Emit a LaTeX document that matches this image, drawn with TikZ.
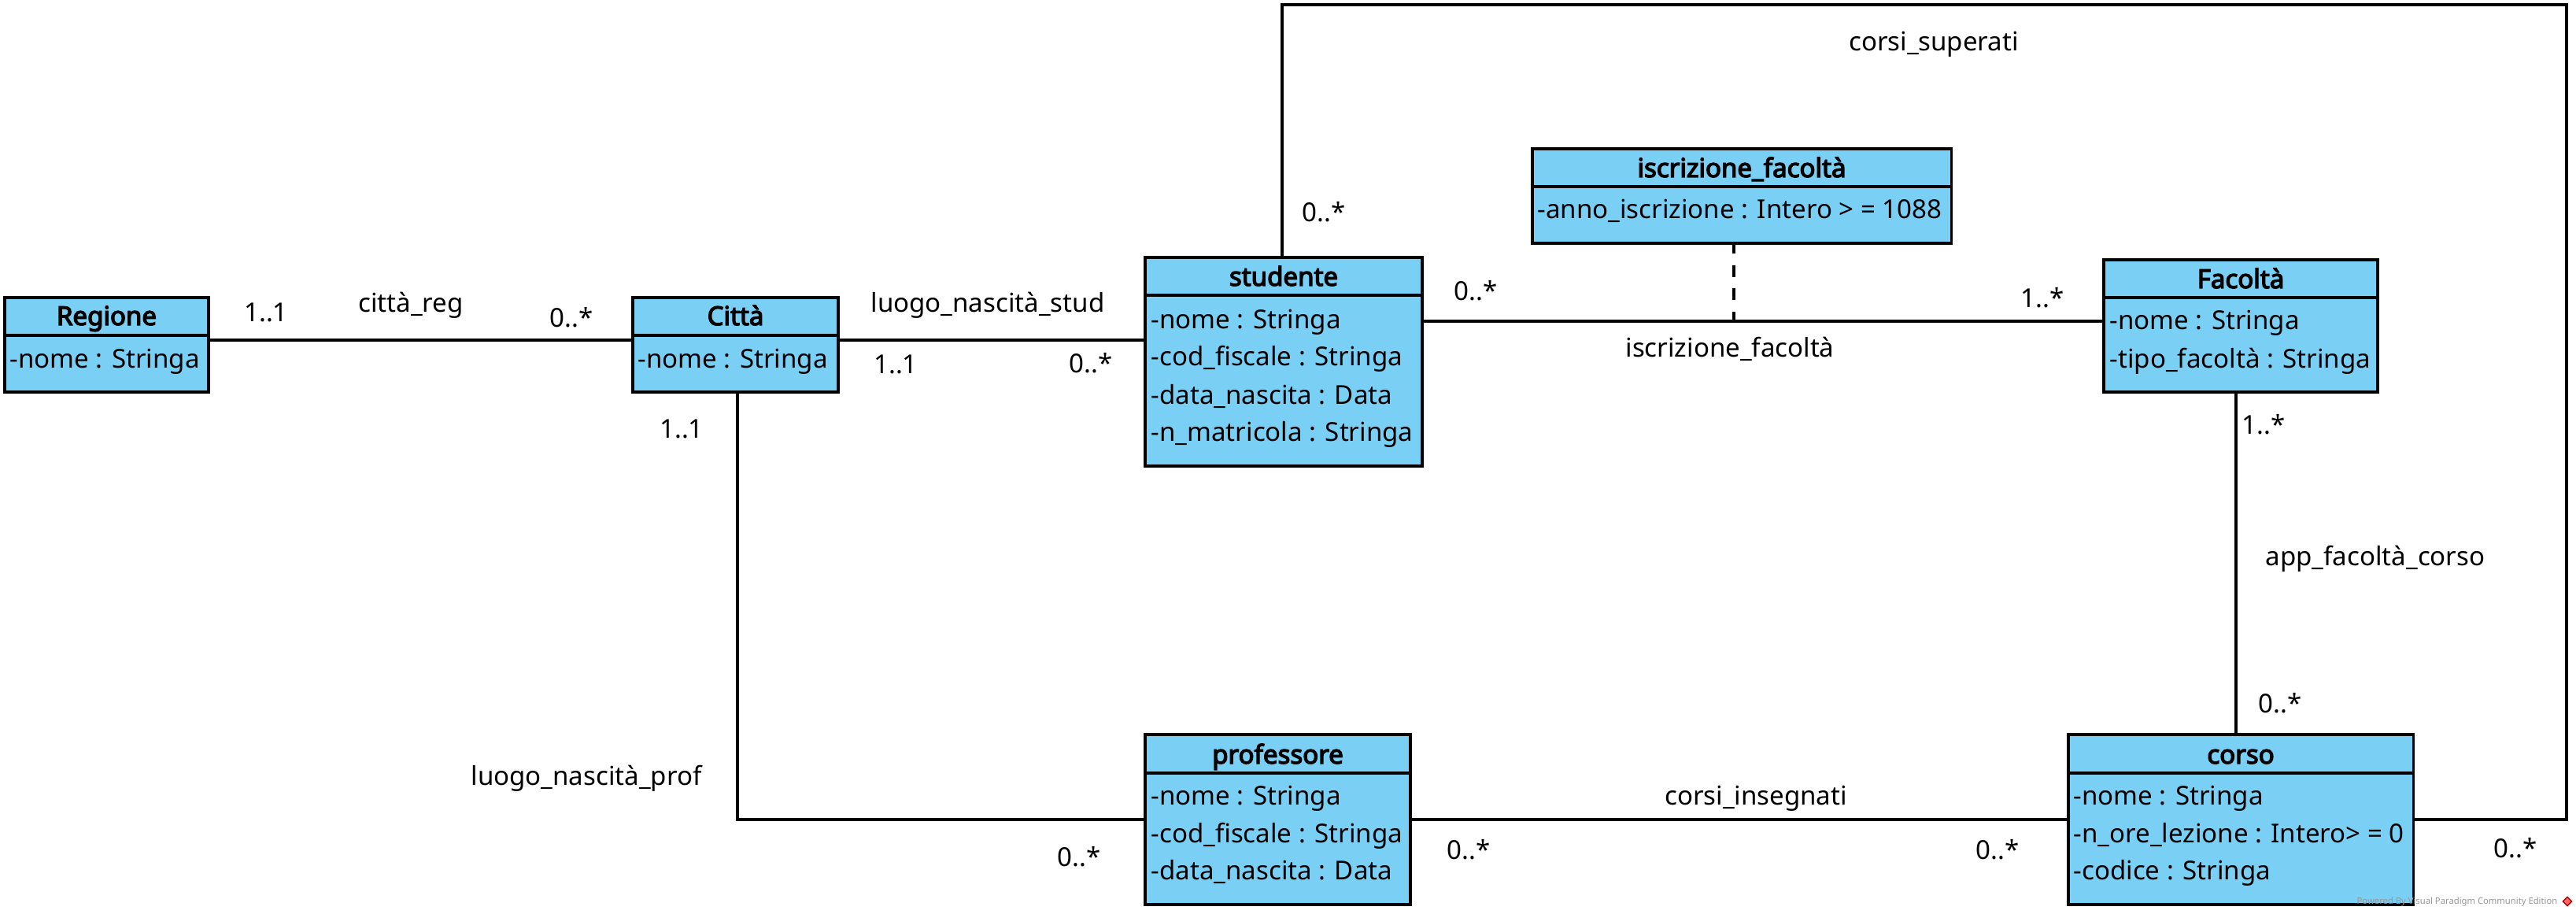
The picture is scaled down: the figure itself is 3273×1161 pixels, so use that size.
\documentclass[tikz,border=0pt]{standalone}
\usepackage{fontspec}
\setmainfont{Noto Sans}[AutoFakeBold=4]
\definecolor{clsfill}{RGB}{122,207,245}
\definecolor{wm}{RGB}{150,150,150}
\begin{document}
\begin{tikzpicture}[x=0.01cm,y=-0.01cm,
  cls/.style={draw=black,fill=clsfill,line width=1pt,inner sep=0pt,outer sep=0pt,anchor=north west},
  divl/.style={line width=1pt},
  hdr/.style={anchor=base,inner sep=0pt,font=\fontsize{9.4}{11}\selectfont\bfseries},
  attr/.style={anchor=base west,inner sep=0pt,font=\fontsize{9.4}{11}\selectfont},
  lbl/.style={inner sep=0pt,font=\fontsize{9.4}{11}\selectfont},
  conn/.style={line width=1pt},
  dsh/.style={line width=1pt,dash pattern=on 0.15cm off 0.145cm,dash phase=0.02cm}
]
\useasboundingbox (0,0) rectangle (3273,1161);

% Regione
\node[cls,minimum width=2.59cm,minimum height=1.20cm] (reg) at (6,378) {};
\draw[divl] (reg.west |- 0,426) -- (reg.east |- 0,426);
\node[hdr] (regH) at (135.5,413) {Regione};
\node[attr] (regA1) at (12,468) {-nome : Stringa};

% Citta
\node[cls,minimum width=2.61cm,minimum height=1.20cm] (cit) at (804,378) {};
\draw[divl] (cit.west |- 0,426) -- (cit.east |- 0,426);
\node[hdr] (citH) at (934.5,413) {Città};
\node[attr] (citA1) at (810,468) {-nome : Stringa};

% studente
\node[cls,minimum width=3.52cm,minimum height=2.65cm] (stu) at (1455,327) {};
\draw[divl] (stu.west |- 0,375) -- (stu.east |- 0,375);
\node[hdr] (stuH) at (1631,363) {studente};
\node[attr] (stuA1) at (1462,417) {-nome : Stringa};
\node[attr] (stuA2) at (1462,465) {-cod\_fiscale : Stringa};
\node[attr] (stuA3) at (1462,513) {-data\_nascita : Data};
\node[attr] (stuA4) at (1462,560) {-n\_matricola : Stringa};

% iscrizione_facolta
\node[cls,minimum width=5.32cm,minimum height=1.20cm] (isc) at (1947,189) {};
\draw[divl] (isc.west |- 0,237) -- (isc.east |- 0,237);
\node[hdr] (iscH) at (2213,225) {iscrizione\_facoltà};
\node[attr] (iscA1) at (1953,278) {-anno\_iscrizione : Intero > = 1088};

% Facolta
\node[cls,minimum width=3.48cm,minimum height=1.68cm] (fac) at (2673,330) {};
\draw[divl] (fac.west |- 0,378) -- (fac.east |- 0,378);
\node[hdr] (facH) at (2847,366) {Facoltà};
\node[attr] (facA1) at (2680,419) {-nome : Stringa};
\node[attr] (facA2) at (2680,467) {-tipo\_facoltà : Stringa};

% professore
\node[cls,minimum width=3.37cm,minimum height=2.16cm] (pro) at (1455,933) {};
\draw[divl] (pro.west |- 0,982) -- (pro.east |- 0,982);
\node[hdr] (proH) at (1623.5,970) {professore};
\node[attr] (proA1) at (1462,1022) {-nome : Stringa};
\node[attr] (proA2) at (1462,1070) {-cod\_fiscale : Stringa};
\node[attr] (proA3) at (1462,1117) {-data\_nascita : Data};

% corso
\node[cls,minimum width=4.38cm,minimum height=2.16cm] (cor) at (2628,933) {};
\draw[divl] (cor.west |- 0,982) -- (cor.east |- 0,982);
\node[hdr] (corH) at (2847,970) {corso};
\node[attr] (corA1) at (2634,1022) {-nome : Stringa};
\node[attr] (corA2) at (2634,1070) {-n\_ore\_lezione : Intero> = 0};
\node[attr] (corA3) at (2634,1117) {-codice : Stringa};

% connectors
\draw[conn] (reg.east |- 0,432) -- (cit.west |- 0,432);
\draw[conn] (cit.east |- 0,432) -- (stu.west |- 0,432);
\draw[conn] (stu.east |- 0,408) -- (fac.west |- 0,408);
\coordinate (iscMid) at (2203,408);
\draw[dsh] (isc.south -| iscMid) -- (iscMid);
\draw[conn] (fac.south -| 2841,0) -- (cor.north -| 2841,0);
\draw[conn] (pro.east |- 0,1041) -- (cor.west |- 0,1041);
\draw[conn] (cit.south -| 937,0) -- (937,1041) -- (pro.west |- 0,1041);
\draw[conn] (stu.north -| 1629,0) -- (1629,6) -- (3261,6) -- (3261,1041) -- (cor.east |- 0,1041);

% labels
\node[lbl] (m1) at (338,397) {1..1};
\node[lbl] (l1) at (522,388) {città\_reg};
\node[lbl] (m2) at (726,403) {0..*};
\node[lbl] (l2) at (1255,388) {luogo\_nascità\_stud};
\node[lbl] (m3) at (1138,463) {1..1};
\node[lbl] (m4) at (1386,461) {0..*};
\node[lbl] (m5) at (866,545) {1..1};
\node[lbl] (l3) at (745,989) {luogo\_nascità\_prof};
\node[lbl] (m6) at (1371,1088) {0..*};
\node[lbl] (m7) at (1682,269) {0..*};
\node[lbl] (m8) at (1875,369) {0..*};
\node[lbl] (l4) at (2198,443) {iscrizione\_facoltà};
\node[lbl] (m9) at (2595,378) {1..*};
\node[lbl] (m10) at (2876,539) {1..*};
\node[lbl] (l5) at (3018,710) {app\_facoltà\_corso};
\node[lbl] (m11) at (2897,893) {0..*};
\node[lbl] (l6) at (2231,1014) {corsi\_insegnati};
\node[lbl] (m12) at (1866,1079) {0..*};
\node[lbl] (m13) at (2538,1079) {0..*};
\node[lbl] (m14) at (3196,1077) {0..*};
\node[lbl] (l7) at (2457,56) {corsi\_superati};

% watermark
\node[inner sep=0pt,anchor=base east,text=wm,font=\fontsize{3.2}{4}\selectfont] (wmk) at (3250,1148) {Powered By Visual Paradigm Community Edition};
\node[draw=red!70!black,fill=red!60,minimum size=0.08cm,inner sep=0pt,rotate=45] (wml) at (3262,1145) {};
\end{tikzpicture}
\end{document}
